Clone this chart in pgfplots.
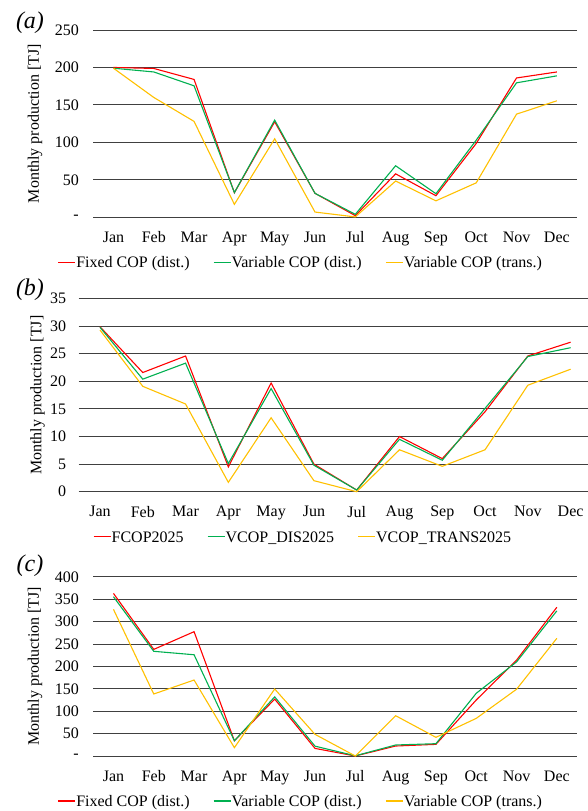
\documentclass[border=0pt]{standalone}
\usepackage{fontspec}
\setmainfont{Liberation Serif}
\usepackage{pgfplots}
\pgfplotsset{compat=1.18}
\usepackage{pgfplotstable}

\definecolor{cred}{RGB}{255,0,0}
\definecolor{cgreen}{RGB}{0,176,80}
\definecolor{cgold}{RGB}{255,192,0}

\newcommand{\fs}{\rmfamily\fontsize{16}{19}\selectfont}
% short coloured sample line in front of a legend text
\newcommand{\legline}[1]{\textcolor{#1}{\rule[0.3em]{17pt}{1.1pt}}\hspace{1pt}}

% Monthly production [TJ], months 0 = Jan ... 11 = Dec
\pgfplotstableread{
m  fixed  vdist  vtrans
0  200    199    199
1  198.7  194    160
2  184    175.5  128
3  32.8   33     17.3
4  127.5  129.7  104.8
5  32     32     7
6  2.2    4      0.5
7  58     68.8   48.4
8  28.8   31.5   22
9  98.6   103    46
10 186    179.5  137.7
11 194    188.8  155.5
}\tabA

\pgfplotstableread{
m  fixed  vdist  vtrans
0  29.9   29.8   29.3
1  21.6   20.4   19.1
2  24.6   23.3   15.9
3  4.5    5.1    1.7
4  19.7   18.7   13.4
5  5.0    4.8    2.0
6  0.3    0.3    0.0
7  10.0   9.5    7.6
8  6.0    5.7    4.6
9  14.5   15.1   7.6
10 24.6   24.5   19.3
11 27.1   26.1   22.2
}\tabB

\pgfplotstableread{
m  fixed  vdist  vtrans
0  363    355.6  327.4
1  238    233.7  138.4
2  277.5  226    169.6
3  34     34     18.6
4  127    132    149.6
5  17     22     48.4
6  0      0.5    0
7  22.3   24.6   90
8  26     27.5   41.7
9  125    140    84
10 214    210    149
11 332    324    262.7
}\tabC

\pgfplotsset{
  prodchart/.style={
    scale only axis,
    xmin=-0.5, xmax=11.5,
    ymin=0,
    xtick={0,...,11},
    xticklabels={Jan,Feb,Mar,Apr,May,Jun,Jul,Aug,Sep,Oct,Nov,Dec},
    axis line style={draw=none},
    major tick length=0pt,
    ymajorgrids,
    grid style={black!75, line width=0.9pt},
    tick label style={font=\fs},
    label style={font=\fs},
    ylabel={Monthly production [TJ]},
    clip=false,
    legend columns=3,
    legend cell align=left,
    legend style={draw=none, fill=none, font=\fs, inner sep=0pt,
      anchor=west,
      /tikz/every even column/.append style={column sep=20pt}},
    xticklabel style={yshift=-11pt},
    yticklabel style={xshift=-11pt},
  },
  sred/.style={cred, line width=1.1pt},
  sgreen/.style={cgreen, line width=1.1pt},
  sgold/.style={cgold, line width=1.1pt},
}

\begin{document}
\begin{tikzpicture}
\useasboundingbox (0,0) rectangle (587pt,-811pt);

% (a)
\node[font=\fontsize{24}{28}\selectfont\itshape] at (30pt,-23pt) {(a)};
\begin{axis}[prodchart,
  at={(93.3pt,-217.3pt)}, anchor=south west,
  width=483.7pt, height=187.3pt,
  ymax=250, ytick={0,50,...,250},
  yticklabels={-,50,100,150,200,250},
  ylabel style={at={(axis description cs:-0.1205,0.5)}, anchor=center},
  legend image code/.code={},
  legend style={at={(axis description cs:-0.077,-0.242)}},
]
\addplot[sred]   table[x=m,y=fixed]  {\tabA};
\addlegendentry{\legline{cred}Fixed COP (dist.)}
\addplot[sgreen] table[x=m,y=vdist]  {\tabA};
\addlegendentry{\legline{cgreen}Variable COP (dist.)}
\addplot[sgold]  table[x=m,y=vtrans] {\tabA};
\addlegendentry{\legline{cgold}Variable COP (trans.)}
\end{axis}

% (b)
\node[font=\fontsize{24}{28}\selectfont\itshape] at (30pt,-290pt) {(b)};
\begin{axis}[prodchart,
  at={(78.6pt,-491.7pt)}, anchor=south west,
  width=513.4pt, height=193.1pt,
  ymax=35, ytick={0,5,...,35},
  yticklabels={0,5,10,15,20,25,30,35},
  yticklabel style={xshift=2pt},
  ylabel style={at={(axis description cs:-0.080,0.5)}, anchor=center},
  legend image code/.code={},
  legend style={at={(axis description cs:0.025,-0.238)}},
]
\addplot[sred]   table[x=m,y=fixed]  {\tabB};
\addlegendentry{\legline{cred}FCOP2025}
\addplot[sgreen] table[x=m,y=vdist]  {\tabB};
\addlegendentry{\legline{cgreen}VCOP\_DIS2025}
\addplot[sgold]  table[x=m,y=vtrans] {\tabB};
\addlegendentry{\legline{cgold}VCOP\_TRANS2025}
\end{axis}

% (c)
\node[font=\fontsize{24}{28}\selectfont\itshape] at (30pt,-566pt) {(c)};
\begin{axis}[prodchart,
  at={(93.3pt,-756pt)}, anchor=south west,
  width=483.7pt, height=179.2pt,
  ymax=400, ytick={0,50,...,400},
  yticklabels={-,50,100,150,200,250,300,350,400},
  ylabel style={at={(axis description cs:-0.1205,0.5)}, anchor=center},
  legend image code/.code={},
  legend style={at={(axis description cs:-0.077,-0.254)}},
]
\addplot[sred]   table[x=m,y=fixed]  {\tabC};
\addlegendentry{\legline{cred}Fixed COP (dist.)}
\addplot[sgreen] table[x=m,y=vdist]  {\tabC};
\addlegendentry{\legline{cgreen}Variable COP (dist.)}
\addplot[sgold]  table[x=m,y=vtrans] {\tabC};
\addlegendentry{\legline{cgold}Variable COP (trans.)}
\end{axis}
\end{tikzpicture}
\end{document}
